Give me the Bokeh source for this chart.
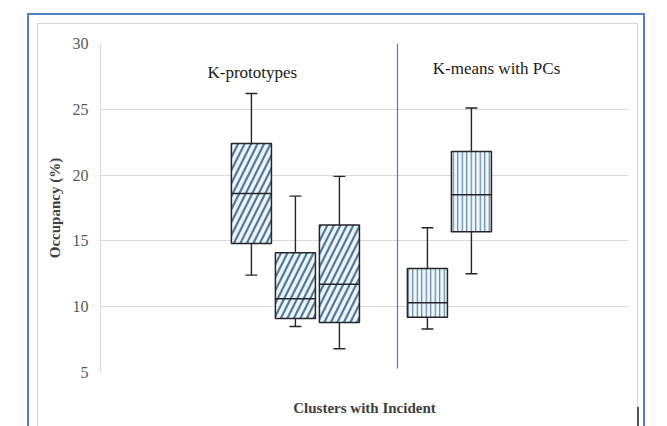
from bokeh.plotting import figure
from bokeh.models import (Range1d, FixedTicker, Label, ColumnDataSource, InlineStyleSheet)
from bokeh.embed import file_html
from bokeh.resources import INLINE

# Occupancy (%) box statistics per cluster
kproto_pos = [0, 1, 2]
kproto_low = [12.4, 8.5, 6.8]
kproto_q1 = [14.8, 9.1, 8.8]
kproto_med = [18.6, 10.6, 11.7]
kproto_q3 = [22.4, 14.1, 16.2]
kproto_high = [26.2, 18.4, 19.9]

kmeans_pos = [4, 5]
kmeans_low = [8.3, 12.5]
kmeans_q1 = [9.2, 15.7]
kmeans_med = [10.3, 18.5]
kmeans_q3 = [12.9, 21.8]
kmeans_high = [16.0, 25.1]

y_ticks = [5, 10, 15, 20, 25, 30]

SERIF = "Liberation Serif"
BOX_W = 0.91
CAP_W = 0.27

p = figure(width=667, height=426, output_backend="svg", toolbar_location=None,
           x_range=Range1d(-3.43, 8.57), y_range=Range1d(5, 30),
           min_border_left=100, min_border_right=39, min_border_top=43,
           min_border_bottom=54, background_fill_color="white",
           border_fill_color="white")
p.outline_line_color = None

# y axis
p.yaxis.ticker = FixedTicker(ticks=y_ticks)
p.yaxis.axis_line_color = "#d9d9d9"
p.yaxis.major_tick_line_color = None
p.yaxis.minor_tick_line_color = None
p.yaxis.major_tick_out = 0
p.yaxis.major_tick_in = 0
p.yaxis.major_label_text_font = SERIF
p.yaxis.major_label_text_font_size = "16px"
p.yaxis.major_label_text_color = "#595959"
p.yaxis.major_label_standoff = 12
p.yaxis.axis_label = "Occupancy (%)"
p.yaxis.axis_label_text_font = SERIF
p.yaxis.axis_label_text_font_style = "bold"
p.yaxis.axis_label_text_font_size = "15px"
p.yaxis.axis_label_text_color = "#404040"
p.yaxis.axis_label_standoff = 7

# x axis: label only
p.xaxis.ticker = FixedTicker(ticks=[])
p.xaxis.axis_line_color = None
p.xaxis.major_tick_line_color = None
p.xaxis.minor_tick_line_color = None
p.xaxis.major_tick_out = 0
p.xaxis.major_tick_in = 0
p.xaxis.axis_label = "Clusters with Incident"
p.xaxis.axis_label_text_font = SERIF
p.xaxis.axis_label_text_font_style = "bold"
p.xaxis.axis_label_text_font_size = "15px"
p.xaxis.axis_label_text_color = "#404040"
p.xaxis.axis_label_standoff = 27

p.xgrid.grid_line_color = None
p.ygrid.ticker = FixedTicker(ticks=y_ticks)
p.ygrid.grid_line_color = "#d9d9d9"
p.ygrid.grid_line_width = 1


def draw_boxes(pos, low, q1, med, q3, high, pattern, scale, weight, hatch_color):
    src = ColumnDataSource(dict(
        x=pos, low=low, q1=q1, med=med, q3=q3, high=high,
        x0=[v - BOX_W / 2 for v in pos], x1=[v + BOX_W / 2 for v in pos],
        c0=[v - CAP_W / 2 for v in pos], c1=[v + CAP_W / 2 for v in pos],
    ))
    # whiskers
    p.segment(x0="x", y0="q3", x1="x", y1="high", source=src, line_color="#262626", line_width=1.4)
    p.segment(x0="x", y0="low", x1="x", y1="q1", source=src, line_color="#262626", line_width=1.4)
    p.segment(x0="c0", y0="high", x1="c1", y1="high", source=src, line_color="#262626", line_width=1.4)
    p.segment(x0="c0", y0="low", x1="c1", y1="low", source=src, line_color="#262626", line_width=1.4)
    # boxes
    p.quad(left="x0", right="x1", bottom="q1", top="q3", source=src,
           fill_color="#eaf6fc", line_color="#262626", line_width=1.5,
           hatch_pattern=pattern, hatch_scale=scale, hatch_weight=weight,
           hatch_color=hatch_color)
    # medians
    p.segment(x0="x0", y0="med", x1="x1", y1="med", source=src, line_color="#262626", line_width=1.5)


draw_boxes(kproto_pos, kproto_low, kproto_q1, kproto_med, kproto_q3, kproto_high,
           "/", 13, 2.2, "#58789a")
draw_boxes(kmeans_pos, kmeans_low, kmeans_q1, kmeans_med, kmeans_q3, kmeans_high,
           "|", 4.5, 1.1, "#5c7893")

# divider between the two clustering methods
p.segment(x0=[3.32], y0=[5.3], x1=[3.32], y1=[30], line_color="#5b7fa8", line_width=1.2)

p.add_layout(Label(x=0.02, y=27.8, text="K-prototypes", text_font=SERIF,
                   text_font_size="17px", text_color="#1a1a1a",
                   text_align="center", text_baseline="middle"))
p.add_layout(Label(x=5.57, y=28.1, text="K-means with PCs", text_font=SERIF,
                   text_font_size="17px", text_color="#1a1a1a",
                   text_align="center", text_baseline="middle"))

# chart frame: outer blue border, inner grey border and a dark edge mark
frame_css = """
:host::before {
  content: "";
  position: fixed;
  left: 37px; top: 23px; width: 601px; height: 430px;
  box-sizing: border-box;
  border: 1.5px solid #d6d6d6;
  z-index: 10;
  pointer-events: none;
}
:host::after {
  content: "";
  position: fixed;
  left: 27px; top: 13px; width: 618px; height: 440px;
  box-sizing: border-box;
  border: 2px solid #4f81c4;
  background: linear-gradient(#555555, #555555) no-repeat;
  background-size: 2px 20px;
  background-position: 608px 392px;
  z-index: 11;
  pointer-events: none;
}
"""
p.stylesheets = [InlineStyleSheet(css=frame_css)]

open("out.html", "w").write(file_html(p, INLINE))
